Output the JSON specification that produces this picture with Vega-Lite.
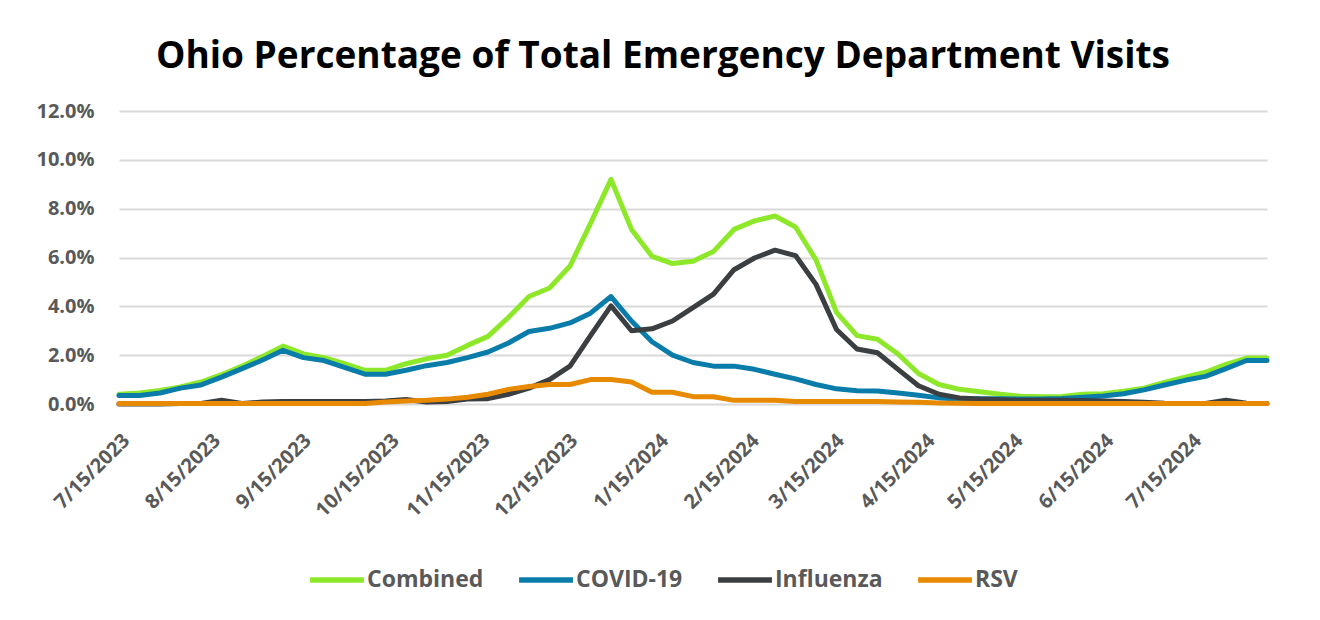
{
  "$schema": "https://vega.github.io/schema/vega-lite/v6.json",
  "width": 1148,
  "height": 293,
  "padding": {"left": 35, "top": 38, "right": 40, "bottom": 10},
  "background": "white",
  "title": {
    "text": "Ohio Percentage of Total Emergency Department Visits",
    "font": "Open Sans",
    "fontSize": 37,
    "fontWeight": "bold",
    "color": "#000000",
    "anchor": "middle",
    "dx": -30,
    "offset": 25
  },
  "data": {
    "values": [
      {"date": "2023-07-15", "Combined": 0.4, "COVID-19": 0.35, "Influenza": 0.0, "RSV": 0.02},
      {"date": "2023-07-22", "Combined": 0.45, "COVID-19": 0.35, "Influenza": 0.0, "RSV": 0.02},
      {"date": "2023-07-29", "Combined": 0.55, "COVID-19": 0.45, "Influenza": 0.0, "RSV": 0.02},
      {"date": "2023-08-05", "Combined": 0.7, "COVID-19": 0.65, "Influenza": 0.02, "RSV": 0.02},
      {"date": "2023-08-12", "Combined": 0.9, "COVID-19": 0.78, "Influenza": 0.02, "RSV": 0.02},
      {"date": "2023-08-19", "Combined": 1.2, "COVID-19": 1.1, "Influenza": 0.15, "RSV": 0.02},
      {"date": "2023-08-26", "Combined": 1.55, "COVID-19": 1.45, "Influenza": 0.02, "RSV": 0.02},
      {"date": "2023-09-02", "Combined": 1.95, "COVID-19": 1.8, "Influenza": 0.08, "RSV": 0.02},
      {"date": "2023-09-09", "Combined": 2.37, "COVID-19": 2.2, "Influenza": 0.1, "RSV": 0.02},
      {"date": "2023-09-16", "Combined": 2.05, "COVID-19": 1.9, "Influenza": 0.1, "RSV": 0.02},
      {"date": "2023-09-23", "Combined": 1.9, "COVID-19": 1.78, "Influenza": 0.1, "RSV": 0.02},
      {"date": "2023-09-30", "Combined": 1.65, "COVID-19": 1.5, "Influenza": 0.1, "RSV": 0.02},
      {"date": "2023-10-07", "Combined": 1.38, "COVID-19": 1.22, "Influenza": 0.1, "RSV": 0.02},
      {"date": "2023-10-14", "Combined": 1.38, "COVID-19": 1.22, "Influenza": 0.12, "RSV": 0.08},
      {"date": "2023-10-21", "Combined": 1.65, "COVID-19": 1.38, "Influenza": 0.18, "RSV": 0.12},
      {"date": "2023-10-28", "Combined": 1.85, "COVID-19": 1.57, "Influenza": 0.08, "RSV": 0.15},
      {"date": "2023-11-04", "Combined": 2.0, "COVID-19": 1.7, "Influenza": 0.1, "RSV": 0.2},
      {"date": "2023-11-11", "Combined": 2.4, "COVID-19": 1.9, "Influenza": 0.2, "RSV": 0.28},
      {"date": "2023-11-18", "Combined": 2.77, "COVID-19": 2.13, "Influenza": 0.22, "RSV": 0.4},
      {"date": "2023-11-25", "Combined": 3.55, "COVID-19": 2.5, "Influenza": 0.4, "RSV": 0.6},
      {"date": "2023-12-02", "Combined": 4.4, "COVID-19": 2.97, "Influenza": 0.65, "RSV": 0.72},
      {"date": "2023-12-09", "Combined": 4.75, "COVID-19": 3.1, "Influenza": 1.0, "RSV": 0.8},
      {"date": "2023-12-16", "Combined": 5.65, "COVID-19": 3.32, "Influenza": 1.55, "RSV": 0.8},
      {"date": "2023-12-23", "Combined": 7.4, "COVID-19": 3.72, "Influenza": 2.8, "RSV": 1.0},
      {"date": "2023-12-30", "Combined": 9.2, "COVID-19": 4.4, "Influenza": 4.02, "RSV": 1.0},
      {"date": "2024-01-06", "Combined": 7.15, "COVID-19": 3.4, "Influenza": 3.0, "RSV": 0.9},
      {"date": "2024-01-13", "Combined": 6.05, "COVID-19": 2.55, "Influenza": 3.08, "RSV": 0.48},
      {"date": "2024-01-20", "Combined": 5.75, "COVID-19": 2.0, "Influenza": 3.4, "RSV": 0.48},
      {"date": "2024-01-27", "Combined": 5.85, "COVID-19": 1.7, "Influenza": 3.95, "RSV": 0.3},
      {"date": "2024-02-03", "Combined": 6.25, "COVID-19": 1.55, "Influenza": 4.5, "RSV": 0.3},
      {"date": "2024-02-10", "Combined": 7.15, "COVID-19": 1.55, "Influenza": 5.5, "RSV": 0.15},
      {"date": "2024-02-17", "Combined": 7.5, "COVID-19": 1.42, "Influenza": 5.98, "RSV": 0.15},
      {"date": "2024-02-24", "Combined": 7.7, "COVID-19": 1.22, "Influenza": 6.3, "RSV": 0.15},
      {"date": "2024-03-02", "Combined": 7.25, "COVID-19": 1.03, "Influenza": 6.08, "RSV": 0.1},
      {"date": "2024-03-09", "Combined": 5.9, "COVID-19": 0.8, "Influenza": 4.9, "RSV": 0.1},
      {"date": "2024-03-16", "Combined": 3.75, "COVID-19": 0.62, "Influenza": 3.05, "RSV": 0.1},
      {"date": "2024-03-23", "Combined": 2.8, "COVID-19": 0.54, "Influenza": 2.25, "RSV": 0.1},
      {"date": "2024-03-30", "Combined": 2.65, "COVID-19": 0.53, "Influenza": 2.1, "RSV": 0.1},
      {"date": "2024-04-06", "Combined": 2.05, "COVID-19": 0.45, "Influenza": 1.42, "RSV": 0.08},
      {"date": "2024-04-13", "Combined": 1.25, "COVID-19": 0.36, "Influenza": 0.75, "RSV": 0.07},
      {"date": "2024-04-20", "Combined": 0.8, "COVID-19": 0.25, "Influenza": 0.4, "RSV": 0.04},
      {"date": "2024-04-27", "Combined": 0.6, "COVID-19": 0.2, "Influenza": 0.25, "RSV": 0.03},
      {"date": "2024-05-04", "Combined": 0.5, "COVID-19": 0.22, "Influenza": 0.2, "RSV": 0.02},
      {"date": "2024-05-11", "Combined": 0.4, "COVID-19": 0.22, "Influenza": 0.17, "RSV": 0.02},
      {"date": "2024-05-18", "Combined": 0.32, "COVID-19": 0.2, "Influenza": 0.15, "RSV": 0.02},
      {"date": "2024-05-25", "Combined": 0.3, "COVID-19": 0.2, "Influenza": 0.15, "RSV": 0.02},
      {"date": "2024-06-01", "Combined": 0.31, "COVID-19": 0.23, "Influenza": 0.15, "RSV": 0.02},
      {"date": "2024-06-08", "Combined": 0.4, "COVID-19": 0.28, "Influenza": 0.14, "RSV": 0.02},
      {"date": "2024-06-15", "Combined": 0.42, "COVID-19": 0.33, "Influenza": 0.12, "RSV": 0.02},
      {"date": "2024-06-22", "Combined": 0.52, "COVID-19": 0.42, "Influenza": 0.1, "RSV": 0.02},
      {"date": "2024-06-29", "Combined": 0.65, "COVID-19": 0.58, "Influenza": 0.07, "RSV": 0.02},
      {"date": "2024-07-06", "Combined": 0.88, "COVID-19": 0.78, "Influenza": 0.03, "RSV": 0.02},
      {"date": "2024-07-13", "Combined": 1.1, "COVID-19": 0.97, "Influenza": 0.02, "RSV": 0.02},
      {"date": "2024-07-20", "Combined": 1.3, "COVID-19": 1.13, "Influenza": 0.02, "RSV": 0.02},
      {"date": "2024-07-27", "Combined": 1.62, "COVID-19": 1.45, "Influenza": 0.15, "RSV": 0.02},
      {"date": "2024-08-03", "Combined": 1.88, "COVID-19": 1.78, "Influenza": 0.03, "RSV": 0.02},
      {"date": "2024-08-10", "Combined": 1.88, "COVID-19": 1.78, "Influenza": 0.02, "RSV": 0.02}
    ]
  },
  "transform": [
    {"fold": ["Combined", "COVID-19", "Influenza", "RSV"], "as": ["series", "value"]}
  ],
  "mark": {"type": "line", "strokeWidth": 5, "strokeJoin": "round", "strokeCap": "round"},
  "encoding": {
    "x": {
      "field": "date",
      "type": "temporal",
      "scale": {
        "type": "utc",
        "nice": false,
        "domain": [
          {"year": 2023, "month": 7, "date": 15, "utc": true},
          {"year": 2024, "month": 8, "date": 10, "utc": true}
        ]
      },
      "axis": {
        "title": null,
        "values": [
          {"year": 2023, "month": 7, "date": 15, "utc": true},
          {"year": 2023, "month": 8, "date": 15, "utc": true},
          {"year": 2023, "month": 9, "date": 15, "utc": true},
          {"year": 2023, "month": 10, "date": 15, "utc": true},
          {"year": 2023, "month": 11, "date": 15, "utc": true},
          {"year": 2023, "month": 12, "date": 15, "utc": true},
          {"year": 2024, "month": 1, "date": 15, "utc": true},
          {"year": 2024, "month": 2, "date": 15, "utc": true},
          {"year": 2024, "month": 3, "date": 15, "utc": true},
          {"year": 2024, "month": 4, "date": 15, "utc": true},
          {"year": 2024, "month": 5, "date": 15, "utc": true},
          {"year": 2024, "month": 6, "date": 15, "utc": true},
          {"year": 2024, "month": 7, "date": 15, "utc": true}
        ],
        "format": "%-m/%-d/%Y",
        "labelAngle": -45,
        "labelAlign": "right",
        "labelBaseline": "top",
        "labelPadding": 26,
        "labelFont": "Open Sans",
        "labelFontSize": 20,
        "labelFontWeight": "bold",
        "labelColor": "#595959",
        "labelOverlap": false,
        "labelBound": false,
        "labelFlush": false,
        "domain": false,
        "ticks": false,
        "grid": false
      }
    },
    "y": {
      "field": "value",
      "type": "quantitative",
      "scale": {"domain": [0, 12], "nice": false},
      "axis": {
        "title": null,
        "values": [0, 2, 4, 6, 8, 10, 12],
        "labelExpr": "format(datum.value, '.1f') + '%'",
        "labelFont": "Open Sans",
        "labelFontSize": 20,
        "labelFontWeight": "bold",
        "labelColor": "#595959",
        "labelPadding": 25,
        "domain": false,
        "ticks": false,
        "grid": true,
        "gridColor": "#D9D9D9",
        "gridWidth": 2
      }
    },
    "color": {
      "field": "series",
      "type": "nominal",
      "scale": {
        "domain": ["Combined", "COVID-19", "Influenza", "RSV"],
        "range": ["#8EE82A", "#0A7CAA", "#3B3F42", "#E88A00"]
      },
      "legend": {
        "title": null,
        "orient": "none",
        "legendX": 188,
        "legendY": 439,
        "direction": "horizontal",
        "symbolType": "stroke",
        "symbolSize": 2900,
        "symbolStrokeWidth": 5.5,
        "labelFont": "Open Sans",
        "labelFontSize": 23,
        "labelFontWeight": "bold",
        "labelColor": "#595959",
        "labelOffset": 0,
        "columnPadding": 24,
        "padding": 0
      }
    }
  },
  "config": {
    "view": {"stroke": null}
  }
}
